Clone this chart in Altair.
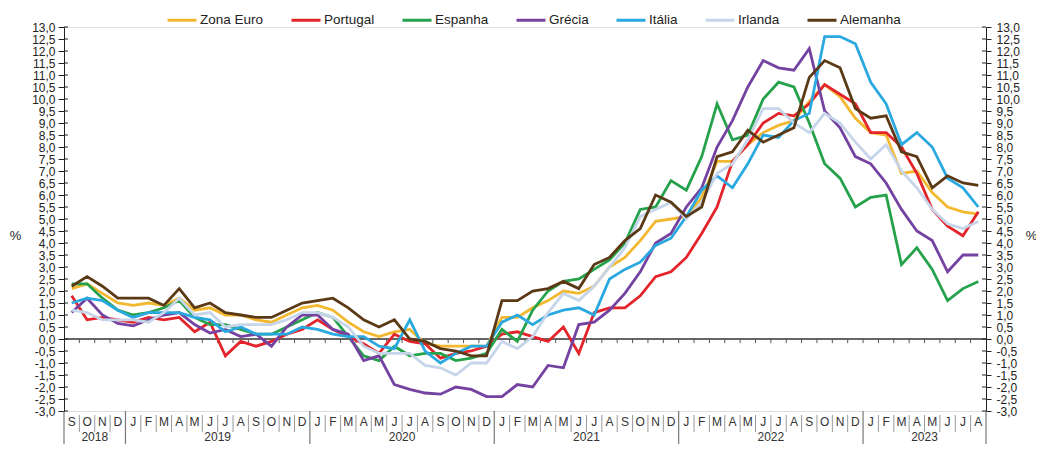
import altair as alt
import pandas as pd

# ---------------- data ----------------
months = ["S", "O", "N", "D"] + ["J", "F", "M", "A", "M", "J", "J", "A", "S", "O", "N", "D"] * 4 + \
         ["J", "F", "M", "A", "M", "J", "J", "A"]
years = ["2018", "2019", "2020", "2021", "2022", "2023"]
year_centers = [2, 10, 22, 34, 46, 56]
year_bounds = [0, 4, 16, 28, 40, 52, 60]

series = ["Zona Euro", "Portugal", "Espanha", "Grécia", "Itália", "Irlanda", "Alemanha"]
colors = ["#F2B830", "#E4242B", "#25A24B", "#7442A0", "#2AA9E0", "#C6D5E9", "#5B3915"]

zona_euro = [2.1, 2.3, 1.9, 1.5,
             1.4, 1.5, 1.4, 1.7, 1.2, 1.3, 1.0, 1.0, 0.8, 0.7, 1.0, 1.3,
             1.4, 1.2, 0.7, 0.3, 0.1, 0.3, 0.4, -0.2, -0.3, -0.3, -0.3, -0.3,
             0.9, 0.9, 1.3, 1.6, 2.0, 1.9, 2.2, 3.0, 3.4, 4.1, 4.9, 5.0,
             5.1, 5.9, 7.4, 7.4, 8.1, 8.6, 8.9, 9.1, 9.9, 10.6, 10.1, 9.2,
             8.6, 8.5, 6.9, 7.0, 6.1, 5.5, 5.3, 5.2]
portugal = [1.8, 0.8, 0.9, 0.8,
            0.7, 0.9, 0.8, 0.9, 0.3, 0.7, -0.7, -0.1, -0.3, -0.1, 0.2, 0.4,
            0.8, 0.4, 0.1, -0.2, -0.6, 0.2, -0.1, -0.2, -0.8, -0.6, -0.5, -0.3,
            0.2, 0.3, 0.1, -0.1, 0.5, -0.6, 1.1, 1.3, 1.3, 1.8, 2.6, 2.8,
            3.4, 4.4, 5.5, 7.4, 8.1, 9.0, 9.4, 9.3, 9.8, 10.6, 10.2, 9.8,
            8.6, 8.6, 8.0, 6.9, 5.4, 4.7, 4.3, 5.3]
espanha = [2.3, 2.3, 1.7, 1.2,
           1.0, 1.1, 1.3, 1.6, 0.9, 0.6, 0.6, 0.4, 0.2, 0.2, 0.5, 0.8,
           1.1, 0.9, 0.1, -0.7, -0.9, -0.3, -0.7, -0.6, -0.6, -0.9, -0.8, -0.6,
           0.4, -0.1, 1.2, 2.0, 2.4, 2.5, 2.9, 3.3, 4.0, 5.4, 5.5, 6.6,
           6.2, 7.6, 9.8, 8.3, 8.5, 10.0, 10.7, 10.5, 9.0, 7.3, 6.7, 5.5,
           5.9, 6.0, 3.1, 3.8, 2.9, 1.6, 2.1, 2.4]
grecia = [1.1, 1.7, 1.0, 0.65,
          0.55, 0.8, 1.0, 1.1, 0.6, 0.25, 0.4, 0.1, 0.2, -0.3, 0.5, 1.0,
          1.0, 0.4, 0.2, -0.9, -0.7, -1.9, -2.1, -2.25, -2.3, -2.0, -2.1, -2.4,
          -2.4, -1.9, -2.0, -1.1, -1.2, 0.6, 0.7, 1.2, 1.9, 2.8, 4.0, 4.4,
          5.5, 6.3, 8.0, 9.1, 10.5, 11.6, 11.3, 11.2, 12.1, 9.5, 8.8, 7.6,
          7.3, 6.5, 5.4, 4.5, 4.1, 2.8, 3.5, 3.5]
italia = [1.5, 1.7, 1.6, 1.2,
          0.9, 1.1, 1.1, 1.1, 0.9, 0.8, 0.3, 0.5, 0.2, 0.2, 0.2, 0.5,
          0.4, 0.2, 0.1, 0.1, -0.3, -0.4, 0.8, -0.5, -1.0, -0.6, -0.3, -0.3,
          0.7, 1.0, 0.6, 1.0, 1.2, 1.3, 1.0, 2.5, 2.9, 3.2, 3.9, 4.2,
          5.1, 6.2, 6.8, 6.3, 7.3, 8.5, 8.4, 9.1, 9.4, 12.6, 12.6, 12.3,
          10.7, 9.8, 8.1, 8.6, 8.0, 6.7, 6.3, 5.5]
irlanda = [1.2, 1.1, 0.8, 0.8,
           0.8, 0.7, 1.1, 1.7, 1.0, 1.1, 0.5, 0.6, 0.6, 0.6, 0.8, 1.1,
           1.1, 0.9, 0.5, -0.3, -0.6, -0.6, -0.6, -1.1, -1.2, -1.5, -1.0, -1.0,
           -0.1, -0.4, 0.1, 1.1, 1.9, 1.6, 2.2, 3.0, 3.8, 5.1, 5.4, 5.7,
           5.0, 5.7, 6.9, 7.3, 8.3, 9.6, 9.6, 9.0, 8.6, 9.4, 9.0, 8.2,
           7.5, 8.1, 7.0, 6.3, 5.4, 4.8, 4.6, 4.9]
alemanha = [2.2, 2.6, 2.2, 1.7,
            1.7, 1.7, 1.4, 2.1, 1.3, 1.5, 1.1, 1.0, 0.9, 0.9, 1.2, 1.5,
            1.6, 1.7, 1.3, 0.8, 0.5, 0.8, 0.0, -0.1, -0.4, -0.5, -0.7, -0.7,
            1.6, 1.6, 2.0, 2.1, 2.4, 2.1, 3.1, 3.4, 4.1, 4.6, 6.0, 5.7,
            5.1, 5.5, 7.6, 7.8, 8.7, 8.2, 8.5, 8.8, 10.9, 11.6, 11.3, 9.6,
            9.2, 9.3, 7.8, 7.6, 6.3, 6.8, 6.5, 6.4]

values = [zona_euro, portugal, espanha, grecia, italia, irlanda, alemanha]
yticks = [v / 2 for v in range(-6, 27)]

# ---------------- tables ----------------
rows = []
for s, vals in zip(series, values):
    for i, v in enumerate(vals):
        rows.append({"serie": s, "x": i + 0.5, "value": v})
df = pd.DataFrame(rows)

month_df = pd.DataFrame({"x": [i + 0.5 for i in range(len(months))], "m": months})
sep_df = pd.DataFrame({"b": [b for b in range(1, len(months)) if b not in year_bounds]})
ysep_df = pd.DataFrame({"b": year_bounds})
year_df = pd.DataFrame({"x": year_centers, "y": years})
tick_df = pd.DataFrame({"t": yticks})
zero_df = pd.DataFrame({"z": [0.0]})
ztick_df = pd.DataFrame({"b": list(range(1, len(months))), "z": 0.0, "z2": -0.17})

W, H = 922, 384
FONT = "Liberation Sans"
xs = alt.Scale(domain=[0, 60], nice=False, zero=False)
ys = alt.Scale(domain=[-3, 13], nice=False, zero=False)

label_expr = "replace(replace(format(datum.value, '.1f'), '.', ','), '\u2212', '-')"

left_axis = alt.Axis(values=yticks, labelExpr=label_expr, labelOverlap=False, grid=False,
                     title="%", titleAngle=0, titleX=-49, titleY=208, titleAlign="center",
                     titleBaseline="middle", titleFontSize=13, titleFontWeight="normal",
                     titleColor="#222", tickSize=6, tickColor="#222", domainColor="#222",
                     labelFontSize=12, labelColor="#222", labelPadding=3, labelFont=FONT)
right_axis = alt.Axis(orient="right", values=yticks, labelExpr=label_expr, labelOverlap=False,
                      grid=False, title="%", titleAngle=0, titleX=45, titleY=208,
                      titleAlign="center", titleBaseline="middle", titleFontSize=13,
                      titleFontWeight="normal", titleColor="#222", tickSize=5,
                      tickColor="#222", domainColor="#222", labelFontSize=12,
                      labelColor="#222", labelPadding=5, labelFont=FONT)

zero_line = alt.Chart(zero_df).mark_rule(color="#333", strokeWidth=1.5).encode(
    y=alt.Y("z:Q", scale=ys, axis=None))

zero_ticks = alt.Chart(ztick_df).mark_rule(color="#555", strokeWidth=1).encode(
    x=alt.X("b:Q", scale=xs, axis=None),
    y=alt.Y("z:Q", scale=ys, axis=None),
    y2="z2:Q")

lines = alt.Chart(df).mark_line(strokeWidth=2.8).encode(
    x=alt.X("x:Q", scale=xs, axis=None),
    y=alt.Y("value:Q", scale=ys, axis=left_axis),
    color=alt.Color("serie:N", sort=series,
                    scale=alt.Scale(domain=series, range=colors),
                    legend=alt.Legend(title=None, orient="none", legendX=102, legendY=-23,
                                      direction="horizontal", symbolType="stroke",
                                      symbolSize=841, symbolStrokeWidth=3, labelFontSize=13.5,
                                      labelOffset=2, columnPadding=21, labelColor="#222",
                                      labelFont=FONT, padding=0)),
    detail="serie:N")

month_text = alt.Chart(month_df).mark_text(fontSize=12, font=FONT, color="#333",
                                           align="center", baseline="middle").encode(
    x=alt.X("x:Q", scale=xs, axis=None),
    y=alt.value(H + 11),
    text="m:N")

month_seps = alt.Chart(sep_df).mark_rule(color="#999", strokeWidth=1).encode(
    x=alt.X("b:Q", scale=xs, axis=None),
    y=alt.value(H + 4),
    y2=alt.value(H + 21))

year_seps = alt.Chart(ysep_df).mark_rule(color="#777", strokeWidth=1.2).encode(
    x=alt.X("b:Q", scale=xs, axis=None),
    y=alt.value(H),
    y2=alt.value(H + 45))

year_text = alt.Chart(year_df).mark_text(fontSize=12, font=FONT, color="#333",
                                         align="center", baseline="alphabetic").encode(
    x=alt.X("x:Q", scale=xs, axis=None),
    y=alt.value(H + 30),
    text="y:N")

left_inner = alt.Chart(tick_df).mark_rule(color="#222", strokeWidth=1).encode(
    x=alt.value(0), x2=alt.value(4),
    y=alt.Y("t:Q", scale=ys, axis=None))

right_inner = alt.Chart(tick_df).mark_rule(color="#222", strokeWidth=1).encode(
    x=alt.value(W - 4), x2=alt.value(W),
    y=alt.Y("t:Q", scale=ys, axis=right_axis))

chart = alt.layer(
    zero_line, zero_ticks, month_seps, year_seps, month_text, year_text,
    left_inner, right_inner, lines
).resolve_axis(y="independent").properties(
    width=W, height=H,
    autosize=alt.AutoSizeParams(type="none"),
    padding={"left": 56, "top": 19, "right": 50, "bottom": 33},
).configure_view(stroke=None).configure(font=FONT)

chart.save("out.html", embed_options={"renderer": "svg", "actions": False})
